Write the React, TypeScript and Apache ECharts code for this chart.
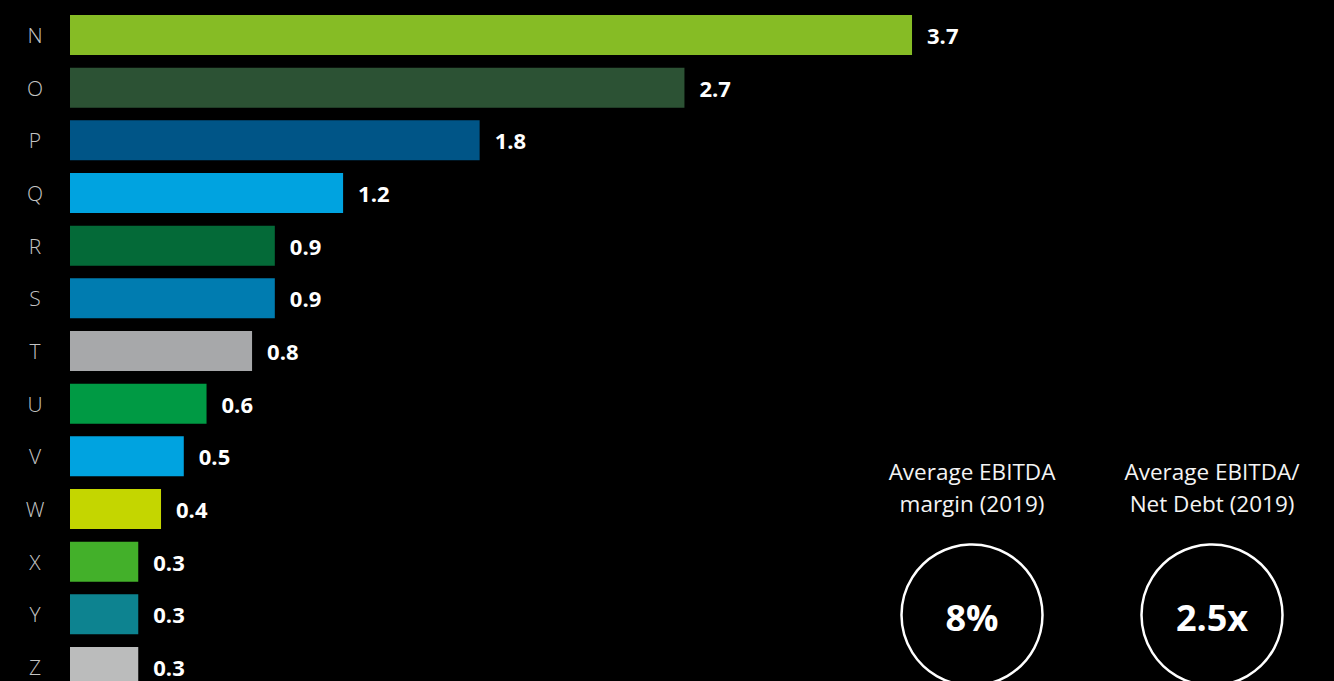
import React, { useEffect, useRef } from "react";
import * as echarts from "echarts";

const categories = ["N", "O", "P", "Q", "R", "S", "T", "U", "V", "W", "X", "Y", "Z"];
const values = [3.7, 2.7, 1.8, 1.2, 0.9, 0.9, 0.8, 0.6, 0.5, 0.4, 0.3, 0.3, 0.3];
const barColors = [
  "#86BC25", "#2C5234", "#005587", "#00A3E0", "#046A38", "#007CB0", "#A7A8AA",
  "#009A44", "#00A3E0", "#C4D600", "#43B02A", "#0D8390", "#BBBCBC",
];
const kpiTitles = [["Average EBITDA", "margin (2019)"], ["Average EBITDA/", "Net Debt (2019)"]];
const kpiValues = ["8%", "2.5x"];

export default function App() {
  const ref = useRef<HTMLDivElement>(null);
  useEffect(() => {
    if (!ref.current) return;
    const chart = echarts.init(ref.current, undefined, { renderer: "svg" });
    const font = "'Open Sans', sans-serif";
    const kpiCx = [972, 1212];
    const graphics: any[] = [];
    kpiCx.forEach((cx, i) => {
      graphics.push({
        type: "text",
        x: cx,
        y: 487,
        style: {
          text: kpiTitles[i].join("\n"),
          fill: "#f4f4f4",
          font: `400 22.5px ${font}`,
          lineHeight: 32,
          align: "center",
          verticalAlign: "middle",
        },
        z: 10,
      });
      graphics.push({
        type: "circle",
        shape: { cx, cy: 615, r: 70.5 },
        style: { fill: "none", stroke: "#ffffff", lineWidth: 2.5 },
        z: 10,
      });
      graphics.push({
        type: "text",
        x: cx,
        y: 617,
        style: {
          text: kpiValues[i],
          fill: "#ffffff",
          font: `700 36px ${font}`,
          align: "center",
          verticalAlign: "middle",
        },
        z: 10,
      });
    });
    chart.setOption({
      animation: false,
      backgroundColor: "#000000",
      grid: { left: 70, top: 8.67, width: 910.3, height: 684.7, containLabel: false },
      xAxis: { type: "value", min: 0, max: 4, show: false },
      yAxis: {
        type: "category",
        data: categories,
        inverse: true,
        axisLine: { show: false },
        axisTick: { show: false },
        axisLabel: {
          color: "#c4c4c4",
          fontFamily: font,
          fontWeight: 300,
          fontSize: 21,
          align: "center",
          margin: 35,
        },
      },
      series: [
        {
          type: "bar",
          barWidth: 40,
          data: values.map((v, i) => ({ value: v, itemStyle: { color: barColors[i] } })),
          label: {
            show: true,
            position: "right",
            distance: 15,
            color: "#ffffff",
            fontFamily: font,
            fontWeight: 700,
            fontSize: 22,
            formatter: (p: any) => p.value.toFixed(1),
          },
        },
      ],
      graphic: graphics,
    });
    return () => chart.dispose();
  }, []);
  return (
    <div
      ref={ref}
      style={{ position: "fixed", left: 0, top: 0, width: 1334, height: 700, background: "#000" }}
    />
  );
}
